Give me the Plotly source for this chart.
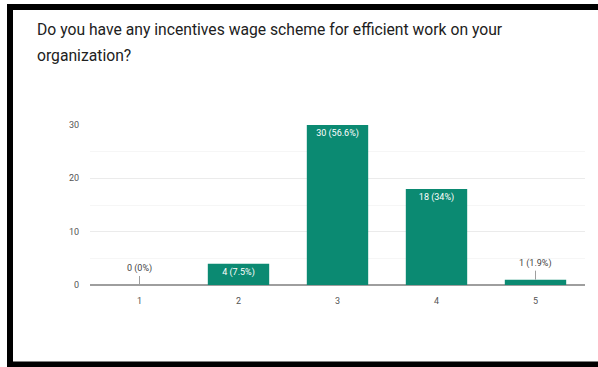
import plotly.graph_objects as go

# Survey responses (scale 1-5)
categories = ["1", "2", "3", "4", "5"]
counts = [0, 4, 30, 18, 1]
y_ticks = [0, 10, 20, 30]
title_lines = [
    "Do you have any incentives wage scheme for efficient work on your",
    "organization?",
]

W, H = 598, 367
M_L, M_R, M_T, M_B = 90, 13, 125, 82

total = sum(counts)


def pct(v):
    s = f"{100 * v / total:.1f}".rstrip("0").rstrip(".")
    return f"{v} ({s}%)"


labels = [pct(v) for v in counts]
inside = [lab if v >= 3 else "" for v, lab in zip(counts, labels)]

fig = go.Figure()
fig.add_trace(go.Bar(
    x=categories, y=counts,
    marker=dict(color="#0b8a72", line=dict(width=0)),
    text=inside, textposition="inside", insidetextanchor="end",
    textfont=dict(color="white", size=9, family="Roboto"),
    textangle=0, cliponaxis=False,
))

# small bars get their label above, joined by a short leader line
for i, (v, lab) in enumerate(zip(counts, labels)):
    if v < 3:
        fig.add_annotation(
            x=i, y=v, xref="x", yref="y", text=lab, showarrow=True,
            arrowhead=0, arrowwidth=1, arrowcolor="#9e9e9e",
            ax=0, ay=-9, yanchor="bottom",
            font=dict(size=9, color="#444", family="Roboto"),
        )

pw = W - M_L - M_R
ph = H - M_T - M_B


def px_x(x):
    return (x - M_L) / pw


def px_y(y):
    return (H - M_B - y) / ph


# two-line question heading
for line, base in zip(title_lines, [37, 63]):
    fig.add_annotation(
        x=px_x(35), y=px_y(base + 4), xref="paper", yref="paper",
        xanchor="left", yanchor="bottom", showarrow=False, text=line,
        font=dict(family="Roboto", size=15.7, color="#212121"),
    )

# outer frame around the card
fig.add_shape(type="rect", xref="paper", yref="paper",
              x0=px_x(10), x1=px_x(640), y0=px_y(7), y1=px_y(364.5),
              line=dict(color="black", width=6), fillcolor="rgba(0,0,0,0)",
              layer="above")

fig.update_layout(
    width=W, height=H,
    margin=dict(l=M_L, r=M_R, t=M_T, b=M_B),
    paper_bgcolor="white", plot_bgcolor="white",
    bargap=0.38,
    showlegend=False,
    font=dict(family="Roboto"),
    xaxis=dict(
        showgrid=False, showline=False, ticks="",
        tickfont=dict(size=9, color="#555"), ticklabelstandoff=9,
        range=[-0.5, 4.5],
    ),
    yaxis=dict(
        range=[0, 30], tickvals=y_ticks, showline=False, ticks="",
        gridcolor="#ebebeb", gridwidth=1,
        zeroline=True, zerolinecolor="#9e9e9e", zerolinewidth=1.5,
        tickfont=dict(size=9, color="#555"), ticklabelstandoff=10,
        minor=dict(dtick=5, showgrid=True, gridcolor="#f6f6f6", gridwidth=1),
    ),
)

fig.write_html("out.html")
